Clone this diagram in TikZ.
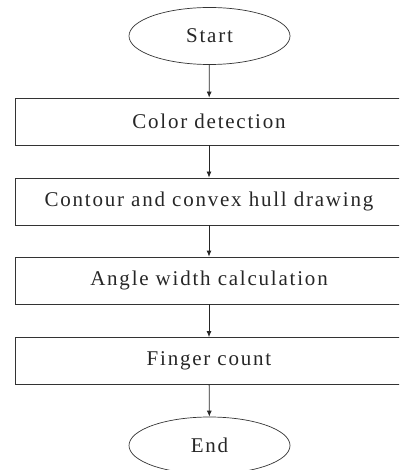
\documentclass[tikz,border=0pt]{standalone}
\usepackage{fontspec}
\setmainfont[LetterSpace=8.5]{Liberation Serif}
\usetikzlibrary{shapes.geometric,arrows.meta}
\begin{document}
\begin{tikzpicture}[x=1pt,y=-1pt,
  stepbox/.style={draw=black!80,line width=0.8pt,rectangle,minimum width=388pt,minimum height=47pt,inner sep=0pt,font=\fontsize{21}{24}\selectfont,text=black!85},
  termbox/.style={draw=black!80,line width=0.7pt,ellipse,minimum width=161pt,minimum height=57pt,inner sep=0pt,font=\fontsize{21}{24}\selectfont,text=black!85},
  flow/.style={draw=black!85,line width=0.8pt,-{Latex[length=6pt,width=5pt]}}]
\useasboundingbox (0,0) rectangle (399,470);
\clip (0,0) rectangle (399,470);
\node[termbox] (start) at (209.5,36) {Start};
\node[stepbox] (s1) at (209,121.5) {Color detection};
\node[stepbox] (s2) at (209,201.5) {Contour and convex hull drawing};
\node[stepbox] (s3) at (209,280.5) {Angle width calculation};
\node[stepbox] (s4) at (209,361) {Finger count};
\node[termbox] (end) at (209.5,445.5) {End};
\draw[flow] (start) -- (s1);
\draw[flow] (s1) -- (s2);
\draw[flow] (s2) -- (s3);
\draw[flow] (s3) -- (s4);
\draw[flow] (s4) -- (end);
\end{tikzpicture}
\end{document}
